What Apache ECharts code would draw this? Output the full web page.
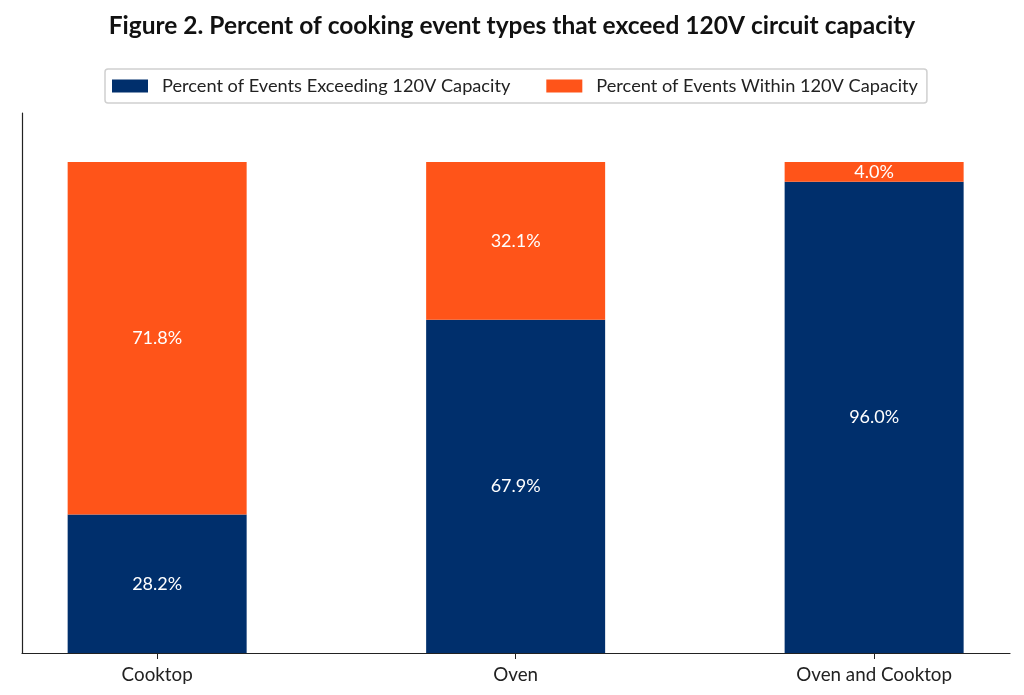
<!DOCTYPE html>
<html>
<head>
<meta charset="utf-8">
<script src="https://cdn.jsdelivr.net/npm/echarts@6/dist/echarts.min.js"></script>
<style>html,body{margin:0;padding:0;background:#fff}#c{width:1024px;height:695px}</style>
</head>
<body>
<div id="c"></div>
<script>
const categories = ['Cooktop', 'Oven', 'Oven and Cooktop'];
const exceeding = [28.2, 67.9, 96.0];
const within = [71.8, 32.1, 4.0];
const seriesNames = ['Percent of Events Exceeding 120V Capacity', 'Percent of Events Within 120V Capacity'];
const titleText = 'Figure 2. Percent of cooking event types that exceed 120V circuit capacity';

const FONT = 'Lato';
const idx = categories.map((c, i) => i);
const chart = echarts.init(document.getElementById('c'));
const lbl = {
  show: true, position: 'inside', color: '#ffffff', fontFamily: FONT, fontSize: 18,
  formatter: p => p.value[0].toFixed(1) + '%'
};
chart.setOption({
  animation: false,
  title: {
    text: titleText, left: 'center', top: 9,
    textStyle: { fontFamily: FONT, fontWeight: 'bold', fontSize: 24.5, color: '#111' }
  },
  legend: {
    left: 105, top: 69,
    data: seriesNames,
    icon: 'rect',
    itemWidth: 36, itemHeight: 13, itemGap: 36,
    padding: [8, 9, 8, 7],
    borderColor: '#d0d0d0', borderWidth: 1.5, borderRadius: 3,
    textStyle: { fontFamily: FONT, fontSize: 18.2, color: '#222', padding: [0, 0, 0, 9] }
  },
  grid: { left: 22, right: 14, top: 113, bottom: 42 },
  xAxis: {
    type: 'value', min: -0.377, max: 2.379,
    axisLine: { show: true, onZero: false, lineStyle: { color: '#222', width: 1.2 } },
    axisTick: { show: true, customValues: idx, length: 6, lineStyle: { color: '#222' } },
    axisLabel: { customValues: idx, formatter: v => categories[Math.round(v)] || '',
      fontFamily: FONT, fontSize: 18.8, color: '#222', margin: 12 },
    splitLine: { show: false }
  },
  yAxis: {
    type: 'value', min: 0, max: 110,
    axisLine: { show: true, onZero: false, lineStyle: { color: '#222', width: 1.2 } },
    axisTick: { show: false }, axisLabel: { show: false }, splitLine: { show: false }
  },
  series: [
    { name: seriesNames[0], type: 'bar', stack: 's', barWidth: 179, encode: { x: 1, y: 0 },
      data: idx.map(i => [exceeding[i], i]), itemStyle: { color: '#002F6C' }, label: lbl },
    { name: seriesNames[1], type: 'bar', stack: 's', barWidth: 179, encode: { x: 1, y: 0 },
      data: idx.map(i => [within[i], i]), itemStyle: { color: '#FF5419' }, label: lbl }
  ]
});
</script>
</body>
</html>
